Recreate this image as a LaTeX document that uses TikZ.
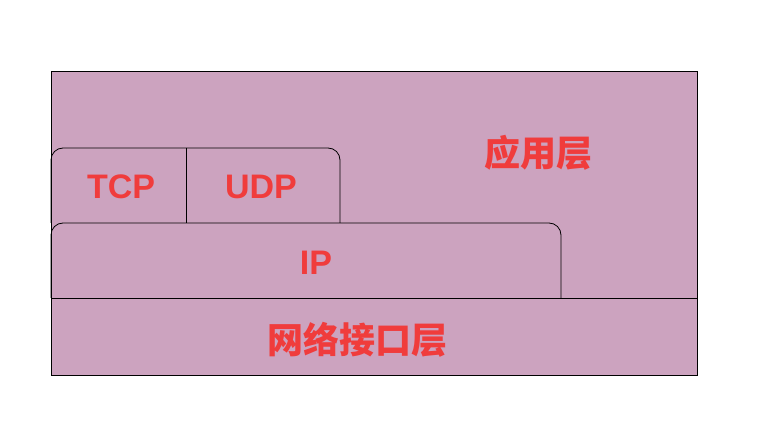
\documentclass[tikz,border=0pt]{standalone}
\usepackage{fontspec}
\setmainfont{Liberation Sans}
\newfontfamily\cjk{Noto Sans CJK SC}
\definecolor{fillc}{HTML}{CCA3BF}
\definecolor{txtc}{HTML}{F03C3C}
\begin{document}
\begin{tikzpicture}[x=1pt,y=-1pt,
  lbl/.style={text=txtc,font=\fontsize{34}{40}\selectfont\bfseries},
  clbl/.style={text=txtc,font=\cjk\fontsize{36}{42}\selectfont\bfseries},
  ln/.style={draw=black,line width=0.8pt}]
\useasboundingbox (0,0) rectangle (766,438);
\path[ln,fill=fillc] (51,71) rectangle (697,375);
\draw[ln] (51,298) -- (697,298);
\draw[ln,rounded corners=12pt] (51,298) -- (51,223) -- (561,223) -- (561,298);
\draw[ln,rounded corners=12pt] (51,223) -- (51,148) -- (340,148) -- (340,223);
\draw[ln] (186,148) -- (186,223);
\node[clbl] (app) at (538,153) {应用层};
\node[lbl] (tcp) at (121,187) {TCP};
\node[lbl] (udp) at (261,187) {UDP};
\node[lbl] (ip) at (316,263) {IP};
\node[clbl] (net) at (357,340) {网络接口层};
\end{tikzpicture}
\end{document}
